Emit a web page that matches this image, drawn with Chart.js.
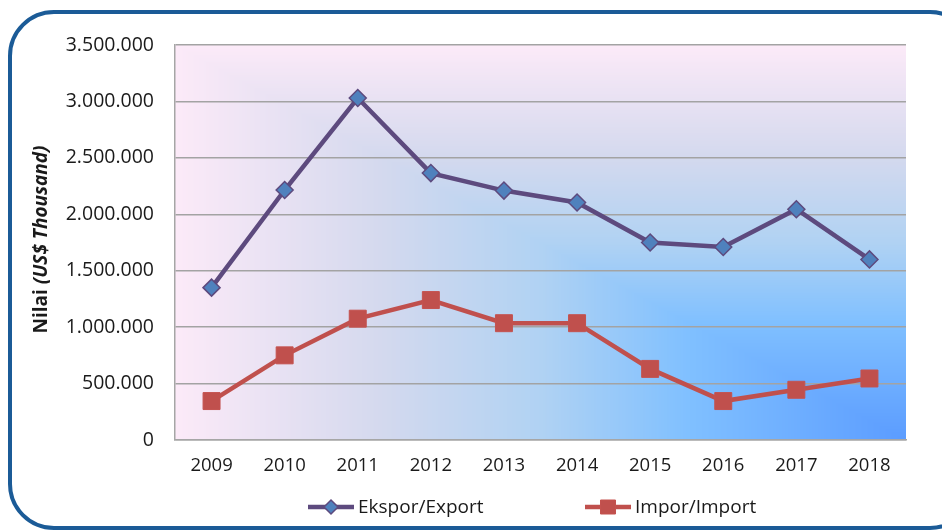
<!DOCTYPE html>
<html>
<head>
<meta charset="utf-8">
<script src="https://cdn.jsdelivr.net/npm/chart.js@4.4.1/dist/chart.umd.min.js"></script>
<style>
  html, body { margin: 0; padding: 0; background: #fff; overflow: hidden; }
  #wrap { position: relative; width: 942px; height: 530px; overflow: hidden; }
  #frame {
    position: absolute; left: 8px; top: 10px; width: 960px; height: 512px;
    border: 4px solid #1b5b97; border-radius: 46px;
  }
  canvas { position: absolute; left: 0; top: 0; }
</style>
</head>
<body>
<div id="wrap">
  <div id="frame"></div>
  <canvas id="chart" width="942" height="530"></canvas>
</div>
<script>
// data (US$ thousand)
var years = ["2009", "2010", "2011", "2012", "2013", "2014", "2015", "2016", "2017", "2018"];
var ekspor = [1350000, 2215000, 3030000, 2365000, 2210000, 2105000, 1750000, 1710000, 2045000, 1600000];
var impor = [345000, 750000, 1075000, 1240000, 1035000, 1035000, 630000, 345000, 445000, 545000];
var seriesNames = ["Ekspor/Export", "Impor/Import"];

var FONT = "'Open Sans', 'DejaVu Sans', sans-serif";

function fmtDots(v) {
  return String(Math.round(v)).replace(/\B(?=(\d{3})+(?!\d))/g, ".");
}

// corner gradient like the office "from corner" fill: pink at far corners, blue at bottom right
var stops = [
  [0.00, [91, 156, 255]],
  [0.30, [128, 192, 255]],
  [0.50, [176, 210, 243]],
  [0.72, [212, 217, 238]],
  [1.00, [252, 234, 248]]
];
function stopColor(t) {
  for (var i = 1; i < stops.length; i++) {
    if (t <= stops[i][0]) {
      var a = stops[i - 1], b = stops[i];
      var f = (t - a[0]) / (b[0] - a[0]);
      return [
        a[1][0] + (b[1][0] - a[1][0]) * f,
        a[1][1] + (b[1][1] - a[1][1]) * f,
        a[1][2] + (b[1][2] - a[1][2]) * f
      ];
    }
  }
  return stops[stops.length - 1][1];
}
var bgCache = null;
var plotBg = {
  id: "plotBg",
  beforeDraw: function(chart) {
    var a = chart.chartArea;
    var w = Math.round(a.right - a.left), h = Math.round(a.bottom - a.top);
    if (!bgCache || bgCache.width !== w || bgCache.height !== h) {
      bgCache = document.createElement("canvas");
      bgCache.width = w; bgCache.height = h;
      var c = bgCache.getContext("2d");
      var img = c.createImageData(w, h);
      for (var y = 0; y < h; y++) {
        for (var x = 0; x < w; x++) {
          var t = Math.max((w - x) / w, (h - y) / h);
          var col = stopColor(Math.min(1, t));
          var k = (y * w + x) * 4;
          img.data[k] = col[0]; img.data[k + 1] = col[1]; img.data[k + 2] = col[2]; img.data[k + 3] = 255;
        }
      }
      c.putImageData(img, 0, 0);
    }
    chart.ctx.drawImage(bgCache, Math.round(a.left), Math.round(a.top));
  }
};

// rotated y title with bold + bold italic parts, and the line+marker legend
var extras = {
  id: "extras",
  afterDraw: function(chart) {
    var ctx = chart.ctx;
    var a = chart.chartArea;
    ctx.save();
    ctx.translate(42, (a.top + a.bottom) / 2 - 3);
    ctx.rotate(-Math.PI / 2);
    ctx.fillStyle = "#1a1a1a";
    ctx.textBaseline = "middle";
    var p1 = "Nilai ", p2 = "(US$ Thousand)";
    ctx.font = "bold 19px " + FONT;
    var w1 = ctx.measureText(p1).width;
    ctx.font = "italic bold 19px " + FONT;
    var w2 = ctx.measureText(p2).width;
    var x0 = -(w1 + w2) / 2;
    ctx.font = "bold 19px " + FONT;
    ctx.textAlign = "left";
    ctx.fillText(p1, x0, 0);
    ctx.font = "italic bold 19px " + FONT;
    ctx.fillText(p2, x0 + w1, 0);
    ctx.restore();

    var ly = 507;
    var starts = [308, 585];
    chart.data.datasets.forEach(function(ds, i) {
      var x = starts[i];
      var cx = x + 23;
      ctx.save();
      ctx.strokeStyle = ds.borderColor;
      ctx.lineWidth = 4.5;
      ctx.beginPath();
      ctx.moveTo(x, ly); ctx.lineTo(x + 46, ly);
      ctx.stroke();
      ctx.fillStyle = ds.pointBackgroundColor;
      ctx.strokeStyle = ds.pointBorderColor;
      ctx.lineWidth = ds.pointBorderWidth;
      ctx.beginPath();
      if (ds.pointStyle === "rectRot") {
        var r = 7;
        ctx.moveTo(cx, ly - r); ctx.lineTo(cx + r, ly);
        ctx.lineTo(cx, ly + r); ctx.lineTo(cx - r, ly); ctx.closePath();
      } else {
        ctx.rect(cx - 7.5, ly - 7, 15, 14);
      }
      ctx.fill(); ctx.stroke();
      ctx.fillStyle = "#1a1a1a";
      ctx.font = "19px " + FONT;
      ctx.textAlign = "left";
      ctx.textBaseline = "middle";
      ctx.fillText(ds.label, x + 50, ly + 1);
      ctx.restore();
    });
  }
};

var ctx = document.getElementById("chart");
var chart = new Chart(ctx, {
  type: "line",
  data: {
    labels: years,
    datasets: [
      {
        label: seriesNames[0],
        data: ekspor,
        borderColor: "#5d4a7e",
        borderWidth: 4.5,
        pointStyle: "rectRot",
        pointRadius: 8.5,
        pointHoverRadius: 8.5,
        pointBackgroundColor: "#4f81bd",
        pointBorderColor: "#5d4a7e",
        pointBorderWidth: 1.5,
        tension: 0
      },
      {
        label: seriesNames[1],
        data: impor,
        borderColor: "#c0504d",
        borderWidth: 4.5,
        pointStyle: "rect",
        pointRadius: 12,
        pointHoverRadius: 12,
        pointBackgroundColor: "#c0504d",
        pointBorderColor: "#c4524f",
        pointBorderWidth: 1,
        tension: 0
      }
    ]
  },
  options: {
    responsive: false,
    animation: false,
    layout: { padding: { top: 45, right: 36, left: 0, bottom: 0 } },
    plugins: {
      legend: { display: false },
      tooltip: { enabled: false },
      title: { display: false }
    },
    scales: {
      x: {
        offset: true,
        grid: { display: false, drawTicks: false },
        border: { display: true, color: "#a6a6a6", width: 1.5 },
        ticks: { color: "#1a1a1a", font: { family: FONT, size: 18.5 }, padding: 15, maxRotation: 0 },
        afterFit: function(scale) { scale.height = 90; }
      },
      y: {
        min: 0,
        max: 3500000,
        grid: { color: "#a3a3a3", lineWidth: 1.5, drawTicks: false },
        border: { display: true, color: "#a6a6a6", width: 1.5 },
        ticks: {
          stepSize: 500000,
          color: "#1a1a1a",
          font: { family: FONT, size: 19.5 },
          padding: 21,
          callback: function(v) { return fmtDots(v); }
        },
        afterFit: function(scale) { scale.width = 175; }
      }
    }
  },
  plugins: [plotBg, extras]
});
</script>
</body>
</html>
